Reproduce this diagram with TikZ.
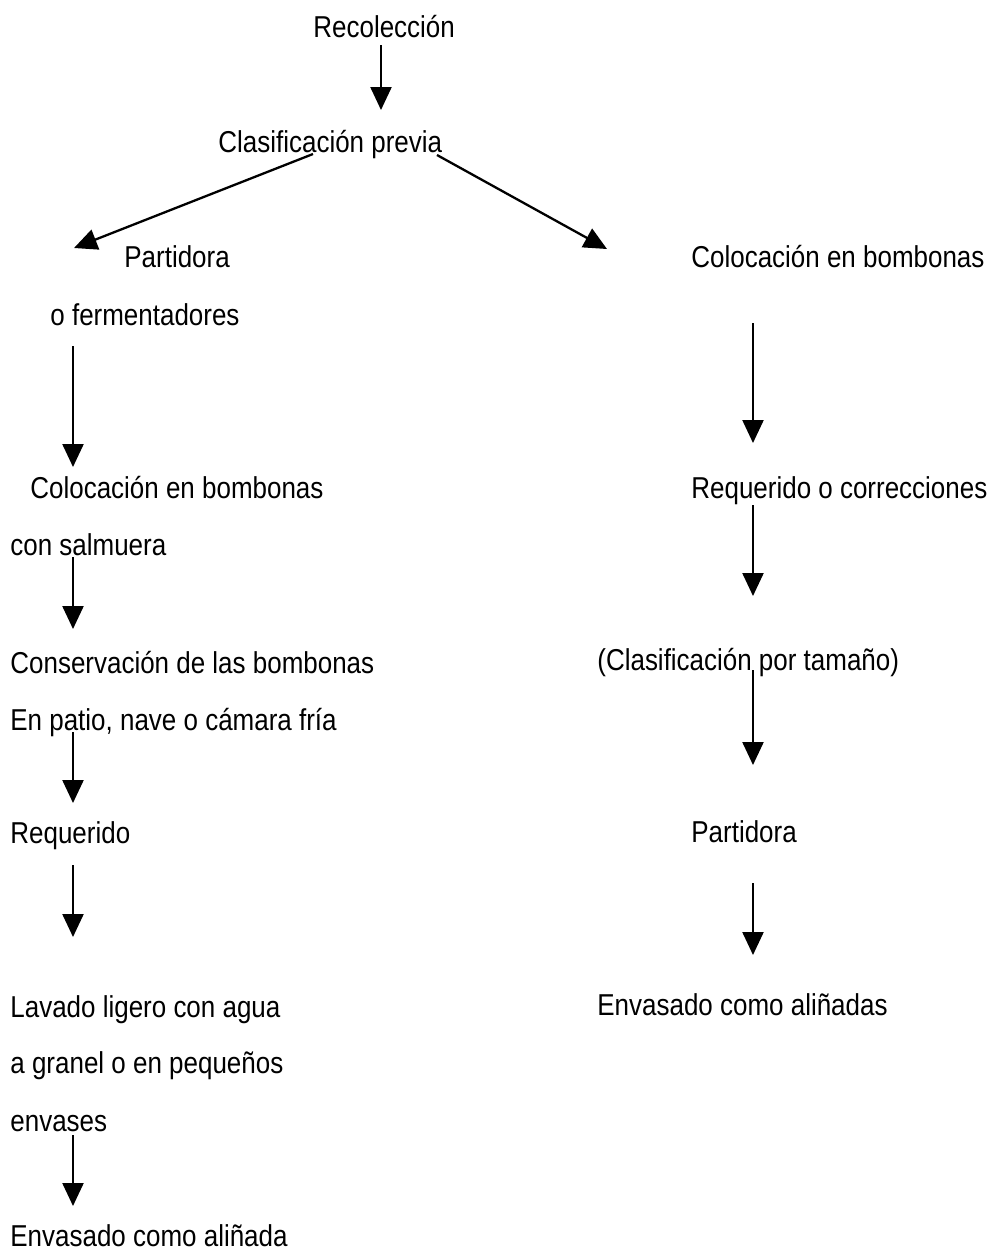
\documentclass[tikz,border=0pt]{standalone}
\usepackage{fontspec}
\setmainfont{Liberation Sans}[FakeStretch=0.86]
\usetikzlibrary{arrows.meta}
\begin{document}
\begin{tikzpicture}[x=0.5pt,y=-0.5pt,
  lbl/.style={anchor=base west,inner sep=0pt,font=\fontsize{15.1pt}{18pt}\selectfont},
  arr/.style={line width=1.15pt,-{Triangle[length=11.5pt,width=10.5pt]}}]
\useasboundingbox (0,0) rectangle (988,1250);
% texts
\node[lbl] (rec) at (313,37) {Recolección};
\node[lbl] (cla) at (218,152) {Clasificación previa};
\node[lbl] (par1) at (124,267) {Partidora};
\node[lbl] (fer) at (50,325) {o fermentadores};
\node[lbl] (col1) at (30,498) {Colocación en bombonas};
\node[lbl] (sal) at (10,555) {con salmuera};
\node[lbl] (con) at (10,673) {Conservación de las bombonas};
\node[lbl] (pat) at (10,730) {En patio, nave o cámara fría};
\node[lbl] (req1) at (10,843) {Requerido};
\node[lbl] (lav) at (10,1017) {Lavado ligero con agua};
\node[lbl] (gra) at (10,1073) {a granel o en pequeños};
\node[lbl] (env) at (10,1131) {envases};
\node[lbl] (ena) at (10,1246) {Envasado como aliñada};
\node[lbl] (col2) at (691,267) {Colocación en bombonas};
\node[lbl] (req2) at (691,498) {Requerido o correcciones};
\node[lbl] (cpt) at (597,670) {(Clasificación por tamaño)};
\node[lbl] (par2) at (691,842) {Partidora};
\node[lbl] (ens) at (597,1015) {Envasado como aliñadas};
% connector ends
\coordinate (a1s) at (381,45);   \coordinate (a1e) at (381,110);
\coordinate (a2s) at (313,154);  \coordinate (a2e) at (74,248);
\coordinate (a3s) at (437,155);  \coordinate (a3e) at (607,249);
\coordinate (a4s) at (73,346);   \coordinate (a4e) at (73,467);
\coordinate (a5s) at (73,557);   \coordinate (a5e) at (73,629);
\coordinate (a6s) at (73,732);   \coordinate (a6e) at (73,803);
\coordinate (a7s) at (73,865);   \coordinate (a7e) at (73,937);
\coordinate (a8s) at (73,1135);  \coordinate (a8e) at (73,1206);
\coordinate (b1s) at (753,323);  \coordinate (b1e) at (753,443);
\coordinate (b2s) at (753,505);  \coordinate (b2e) at (753,596);
\coordinate (b3s) at (753,670);  \coordinate (b3e) at (753,765);
\coordinate (b4s) at (753,883);  \coordinate (b4e) at (753,955);
% connectors
\draw[arr] (a1s) -- (a1e);
\draw[arr] (a2s) -- (a2e);
\draw[arr] (a3s) -- (a3e);
\draw[arr] (a4s) -- (a4e);
\draw[arr] (a5s) -- (a5e);
\draw[arr] (a6s) -- (a6e);
\draw[arr] (a7s) -- (a7e);
\draw[arr] (a8s) -- (a8e);
\draw[arr] (b1s) -- (b1e);
\draw[arr] (b2s) -- (b2e);
\draw[arr] (b3s) -- (b3e);
\draw[arr] (b4s) -- (b4e);
\end{tikzpicture}
\end{document}
